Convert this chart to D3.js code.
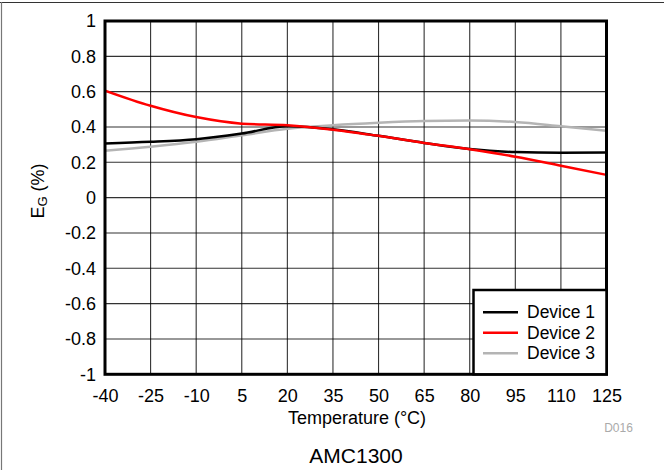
<!DOCTYPE html>
<html><head><meta charset="utf-8">
<script src="https://cdn.jsdelivr.net/npm/d3@7"></script>
<style>body{margin:0;background:#fff}svg{display:block}text{font-family:"Liberation Sans",Arial,sans-serif}</style>
</head><body>
<svg id="c" width="664" height="470"></svg>
<script>
const temps = [-40,-25,-10,5,20,35,50,65,80,95,110,125];
const device1 = [0.307,0.316,0.331,0.363,0.404,0.387,0.350,0.310,0.275,0.258,0.254,0.256];
const device2 = [0.606,0.520,0.456,0.419,0.410,0.385,0.350,0.310,0.274,0.232,0.181,0.129];
const device3 = [0.265,0.288,0.316,0.353,0.390,0.410,0.424,0.434,0.437,0.428,0.404,0.378];
const seriesNames = ["Device 1","Device 2","Device 3"];
const seriesColors = ["#000000","#ff0000","#b4b4b4"];
const xTicks = [-40,-25,-10,5,20,35,50,65,80,95,110,125];
const yTicks = [-1,-0.8,-0.6,-0.4,-0.2,0,0.2,0.4,0.6,0.8,1];

const svg = d3.select("#c");
const L=105, R=606.5, T=21, B=374.3;
const x = d3.scaleLinear().domain([-40,125]).range([L,R]);
const y = d3.scaleLinear().domain([-1,1]).range([B,T]);
const fmt = d => String(+(+d).toFixed(1));

// outer frame (top & left)
svg.append("line").attr("x1",0).attr("x2",664).attr("y1",2.5).attr("y2",2.5).attr("stroke","#333").attr("stroke-width",1.2);
svg.append("line").attr("x1",1.5).attr("x2",1.5).attr("y1",2).attr("y2",470).attr("stroke","#777").attr("stroke-width",1.2);

// grid
const g = svg.append("g");
g.selectAll(".vg").data(xTicks).enter().append("line")
 .attr("x1",d=>x(d)).attr("x2",d=>x(d)).attr("y1",T).attr("y2",B).attr("stroke","#000").attr("stroke-width",1.1).attr("opacity",0.8);
g.selectAll(".hg").data(yTicks).enter().append("line")
 .attr("y1",d=>y(d)).attr("y2",d=>y(d)).attr("x1",L).attr("x2",R).attr("stroke","#000").attr("stroke-width",1.1).attr("opacity",0.8);

// axes labels via d3 axes
const xAxis = d3.axisBottom(x).tickValues(xTicks).tickSize(0).tickPadding(15).tickFormat(fmt);
const xa = svg.append("g").attr("transform",`translate(0,${B})`).call(xAxis);
xa.select(".domain").remove();
xa.selectAll("text").attr("font-size",18).attr("fill","#000").style("font-family","Liberation Sans, Arial, sans-serif");

const yAxis = d3.axisLeft(y).tickValues(yTicks).tickSize(0).tickPadding(9).tickFormat(fmt);
const ya = svg.append("g").attr("transform",`translate(${L},0)`).call(yAxis);
ya.select(".domain").remove();
ya.selectAll("text").attr("font-size",18).attr("fill","#000").style("font-family","Liberation Sans, Arial, sans-serif");

// lines
const line = d3.line().x(d=>x(d[0])).y(d=>y(d[1])).curve(d3.curveMonotoneX);
const allSeries = [device1,device2,device3];
svg.append("clipPath").attr("id","pc").append("rect").attr("x",L).attr("y",T).attr("width",R-L).attr("height",B-T);
[2,0,1].forEach(i=>{
  svg.append("path").datum(temps.map((t,j)=>[t,allSeries[i][j]]))
   .attr("d",line).attr("fill","none").attr("stroke",seriesColors[i]).attr("stroke-width",2.5)
   .attr("clip-path","url(#pc)");
});

// plot frame
svg.append("rect").attr("x",L).attr("y",T).attr("width",R-L).attr("height",B-T)
 .attr("fill","none").attr("stroke","#000").attr("stroke-width",3);

// legend
const lg = svg.append("g");
lg.append("rect").attr("x",473.5).attr("y",290).attr("width",R-473.5).attr("height",B-290)
 .attr("fill","#fff").attr("stroke","#000").attr("stroke-width",2.5);
seriesNames.forEach((n,i)=>{
  const yy = 312.3 + i*20.5;
  lg.append("line").attr("x1",483).attr("x2",518).attr("y1",yy).attr("y2",yy).attr("stroke",seriesColors[i]).attr("stroke-width",2.5);
  lg.append("text").attr("x",527).attr("y",yy+6).attr("font-size",17.5).text(n);
});

// axis titles
svg.append("text").attr("x",357).attr("y",424).attr("text-anchor","middle").attr("font-size",18).text("Temperature (°C)");
const yt = svg.append("text").attr("transform","translate(44,191) rotate(-90)").attr("text-anchor","middle").attr("font-size",18);
yt.append("tspan").text("E");
yt.append("tspan").attr("font-size",13).attr("dy",3).text("G");
yt.append("tspan").attr("dy",-3).text(" (%)");

svg.append("text").attr("x",618.5).attr("y",432).attr("text-anchor","middle").attr("font-size",12).attr("fill","#aaa").text("D016");
svg.append("text").attr("x",356).attr("y",463).attr("text-anchor","middle").attr("font-size",21).text("AMC1300");
</script>
</body></html>
